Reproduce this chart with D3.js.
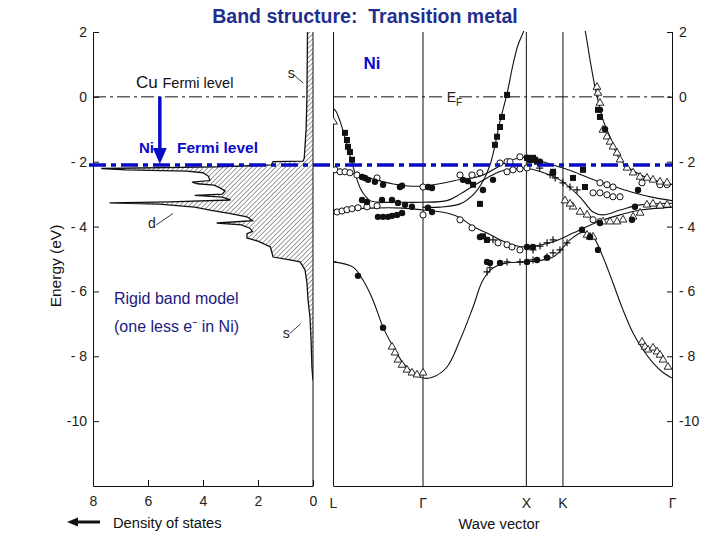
<!DOCTYPE html>
<html><head><meta charset="utf-8">
<script src="https://cdn.jsdelivr.net/npm/d3@7"></script>
<style>body{margin:0;background:#fff}svg{display:block}text{font-family:"Liberation Sans",Arial,sans-serif}</style>
</head><body><svg id="c" width="720" height="540"></svg>
<script>
// ---------------- DATA ----------------
const energyTicks = [2, 0, -2, -4, -6, -8, -10];
const dosTicks = [8, 6, 4, 2, 0];
const kLabels = ["L", "Γ", "X", "K", "Γ"];
const kPositions = [0, 0.866, 1.866, 2.22, 3.28];
const cuFermi = 0;
const niFermi = -2.1;

// density of states [energy (eV), DOS]
const dosProfile = [[2.0,0.2],[0.0,0.22],[-1.0,0.25],[-1.9,0.32],[-1.98,0.36],[-2.0,1.45],[-2.1,1.5],[-2.16,3.5],[-2.21,7.7],[-2.25,6.8],[-2.29,4.6],[-2.34,4.0],[-2.45,3.8],[-2.58,3.75],[-2.63,4.4],[-2.68,4.2],[-2.72,3.6],[-2.8,3.4],[-2.9,3.2],[-3.0,3.3],[-3.04,4.3],[-3.09,3.3],[-3.18,3.0],[-3.24,5.2],[-3.27,7.4],[-3.31,5.6],[-3.4,4.3],[-3.5,3.7],[-3.6,3.0],[-3.7,2.4],[-3.82,2.2],[-3.89,3.5],[-3.95,2.6],[-4.05,2.3],[-4.15,2.2],[-4.22,2.4],[-4.35,2.4],[-4.45,2.0],[-4.63,1.55],[-4.94,1.45],[-5.03,0.84],[-5.09,0.47],[-5.34,0.29],[-5.74,0.22],[-6.27,0.18],[-6.79,0.11],[-7.5,0.07],[-8.33,0.04],[-8.75,0.0]];

// calculated bands [k, E]
const band1 = [[0,-5.09],[0.194,-5.25],[0.290,-5.65],[0.387,-6.27],[0.484,-7.1],[0.581,-7.7],[0.677,-8.2],[0.774,-8.5],[0.866,-8.67],[0.968,-8.64],[1.103,-8.33],[1.229,-7.5],[1.355,-6.48],[1.451,-5.65],[1.548,-5.28],[1.684,-5.12],[1.866,-5.09],[2.129,-4.94],[2.293,-4.41],[2.419,-4.17],[2.516,-4.32],[2.612,-4.94],[2.709,-5.74],[2.806,-6.57],[2.903,-7.28],[3.0,-7.8],[3.096,-8.2],[3.193,-8.5],[3.28,-8.67]];
const band2 = [[0,-3.49],[0.358,-3.43],[0.677,-3.43],[0.866,-3.49],[1.103,-3.58],[1.229,-3.73],[1.355,-4.0],[1.490,-4.2],[1.616,-4.41],[1.742,-4.57],[1.866,-4.63],[2.129,-4.47],[2.322,-4.2],[2.458,-4.0],[2.612,-3.8],[2.777,-3.64],[2.971,-3.49],[3.28,-3.4]];
const band3 = [[0,-2.25],[0.116,-2.3],[0.242,-2.4],[0.406,-2.55],[0.571,-2.68],[0.726,-2.75],[0.866,-2.75],[1.084,-2.65],[1.229,-2.55],[1.422,-2.45],[1.548,-2.25],[1.684,-2.0],[1.809,-1.88],[1.866,-1.85],[1.935,-1.9],[2.129,-2.1],[2.322,-2.3],[2.516,-2.55],[2.709,-2.75],[2.903,-2.95],[3.096,-3.1],[3.28,-3.2]];
const band4 = [[0,-0.35],[0.03,-0.45],[0.068,-0.75],[0.116,-1.25],[0.164,-1.8],[0.213,-2.35],[0.262,-2.8],[0.31,-3.05],[0.358,-3.2],[0.45,-3.25],[0.6,-3.25],[0.866,-3.25],[1.103,-3.2],[1.229,-3.0],[1.355,-2.75],[1.490,-2.5],[1.616,-2.3],[1.742,-2.22],[1.866,-2.2],[2.003,-2.3],[2.196,-2.56],[2.390,-3.09],[2.516,-3.55],[2.612,-3.64],[2.777,-3.49],[2.971,-3.33],[3.28,-3.28]];
const band5 = [[0.866,-3.4],[1.035,-3.4],[1.229,-3.3],[1.355,-3.02],[1.451,-2.6],[1.519,-2.1],[1.567,-1.5],[1.616,-0.75],[1.684,0.1],[1.742,1.0],[1.790,1.6],[1.848,2.05],[1.9,2.6]];
const band6 = [[2.40,2.6],[2.438,2.07],[2.487,1.14],[2.535,0.3],[2.564,-0.1],[2.612,-0.7],[2.680,-1.23],[2.777,-1.94],[2.942,-2.35],[3.096,-2.56],[3.28,-2.7]];
const bands = [band1, band2, band3, band4, band5, band6];

// experimental points [k, E]
const filledSquares = [[0.116,-1.11],[0.135,-1.33],[0.145,-1.54],[0.164,-1.7],[0.184,-1.94],[1.684,0.06],[1.635,-0.62],[1.616,-0.93],[1.587,-1.23],[1.567,-1.48],[2.564,-0.4],[2.583,-0.62],[1.877,-1.88],[1.906,-1.94],[1.935,-1.88],[1.955,-1.94],[1.974,-2.0],[1.355,-2.71],[1.422,-3.3],[1.490,-4.41],[1.451,-4.3],[2.129,-2.31],[2.322,-2.5],[2.419,-2.25],[2.438,-2.78]];
const openCircles = [[0.019,-2.25],[0.068,-2.31],[0.116,-2.31],[0.164,-2.34],[0.232,-2.41],[0.426,-2.5],[0.871,-2.78],[0.039,-3.55],[0.087,-3.52],[0.135,-3.48],[0.184,-3.45],[0.242,-3.42],[0.329,-3.39],[0.426,-3.36],[0.871,-3.64],[1.229,-2.41],[1.345,-2.41],[1.422,-2.34],[1.616,-2.04],[1.684,-2.0],[1.713,-2.0],[1.809,-1.85],[1.684,-2.31],[1.742,-2.25],[1.809,-2.22],[1.877,-2.19],[1.229,-3.79],[1.345,-4.04],[1.597,-4.5],[1.684,-4.56],[1.732,-4.63],[1.809,-4.72],[2.583,-2.65],[2.651,-2.71],[2.709,-2.78],[2.516,-2.96],[2.583,-2.96],[2.651,-3.02],[2.709,-3.08],[2.777,-3.08],[2.516,-3.79],[2.583,-3.85],[2.990,-2.65],[3.164,-2.71],[3.232,-2.71]];
const filledCircles = [[0.281,-2.47],[0.310,-2.5],[0.339,-2.56],[0.406,-2.62],[0.484,-2.71],[0.648,-2.78],[0.668,-2.74],[0.919,-2.78],[0.958,-2.81],[0.281,-3.18],[0.329,-3.24],[0.474,-3.18],[0.571,-3.18],[0.629,-3.27],[0.697,-3.33],[0.764,-3.39],[0.919,-3.42],[0.958,-3.55],[0.435,-3.7],[0.484,-3.7],[0.532,-3.7],[0.571,-3.67],[0.619,-3.64],[0.668,-3.58],[1.258,-2.56],[1.306,-2.6],[1.451,-2.87],[1.548,-2.56],[1.877,-1.88],[1.906,-1.94],[1.955,-1.94],[2.003,-2.0],[1.422,-4.32],[1.490,-4.41],[1.877,-4.63],[1.935,-4.63],[1.490,-5.09],[1.519,-5.12],[1.616,-5.12],[1.877,-5.09],[1.974,-5.03],[2.071,-4.96],[2.129,-2.34],[2.583,-0.4],[2.632,-1.0],[2.951,-2.87],[2.922,-3.39],[2.893,-3.79],[2.583,-3.89],[2.409,-4.1],[2.564,-4.72],[2.487,-4.32],[0.242,-5.52],[0.484,-7.12]];
const openTriangles = [[0.005,-0.77],[0.571,-7.71],[0.600,-7.89],[0.629,-8.11],[0.668,-8.27],[0.716,-8.42],[0.764,-8.51],[0.813,-8.57],[0.871,-8.51],[2.990,-7.56],[3.019,-7.71],[3.048,-7.8],[3.096,-7.74],[3.135,-7.86],[3.164,-7.96],[3.193,-8.11],[3.241,-8.33],[2.554,0.3],[2.564,0.12],[2.583,-0.19],[2.612,-1.02],[2.651,-1.23],[2.680,-1.39],[2.709,-1.54],[2.748,-1.73],[2.777,-1.94],[2.845,-2.19],[2.903,-2.34],[2.971,-2.47],[3.038,-2.5],[3.096,-2.56],[3.164,-2.62],[3.232,-2.65],[2.322,-3.39],[2.390,-3.55],[2.458,-3.64],[2.612,-3.85],[2.680,-3.85],[2.748,-3.85],[2.806,-3.79],[2.903,-3.7],[2.971,-3.58],[3.038,-3.33],[3.096,-3.3],[3.164,-3.36],[3.232,-3.33],[2.458,-4.26],[2.487,-4.32],[2.516,-4.32],[2.245,-3.2],[2.293,-3.3]];
const crosses = [[0.0,-5.09],[1.490,-5.4],[1.519,-5.27],[1.684,-5.09],[1.809,-5.09],[1.935,-5.03],[2.071,-4.93],[2.129,-4.81],[2.196,-4.72],[2.264,-4.5],[1.548,-4.41],[1.935,-4.72],[2.003,-4.6],[2.071,-4.5],[2.129,-4.41],[2.225,-2.65],[2.293,-2.78],[2.361,-2.87],[2.0,-2.2],[2.1,-2.4],[2.15,-2.5]];

// ---------------- SCALES ----------------
const svg = d3.select("#c");
const yE = d3.scaleLinear().domain([-12, 2]).range([486, 32]);
const xD = d3.scaleLinear().domain([8, 0]).range([93, 313]);
const xK = d3.scaleLinear().domain([0, 3.28]).range([333, 672]);

const defs = svg.append("defs");
const pat = defs.append("pattern").attr("id","hatch").attr("patternUnits","userSpaceOnUse")
  .attr("width",3.4).attr("height",3.4).attr("patternTransform","rotate(45)");
pat.append("line").attr("x1",0).attr("y1",0).attr("x2",0).attr("y2",3.4).attr("stroke","#222").attr("stroke-width",0.9);
defs.append("clipPath").attr("id","clipL").append("rect").attr("x",93).attr("y",32).attr("width",220).attr("height",454);
defs.append("clipPath").attr("id","clipR").append("rect").attr("x",333).attr("y",31).attr("width",339).attr("height",455);

// ---------------- LEFT PANEL (DOS) ----------------
const gL = svg.append("g");
const area = d3.area().y(d => yE(d[0])).x0(xD(0)).x1(d => xD(d[1]));
gL.append("path").datum(dosProfile).attr("d", area).attr("fill","url(#hatch)").attr("clip-path","url(#clipL)");
gL.append("path").datum(dosProfile).attr("d", d3.line().y(d => yE(d[0])).x(d => xD(d[1])))
  .attr("fill","none").attr("stroke","#111").attr("stroke-width",1.3).attr("clip-path","url(#clipL)");

const fmt = d => d < 0 ? (d <= -10 ? "-" + (-d) : "- " + (-d)) : String(d);
const axL = gL.append("g").attr("transform","translate(93,0)")
  .call(d3.axisLeft(yE).tickValues(energyTicks).tickSizeInner(-6).tickSizeOuter(0).tickPadding(6).tickFormat(fmt));
gL.append("line").attr("x1",313).attr("x2",313).attr("y1",32).attr("y2",486).attr("stroke","#111");
const axB = gL.append("g").attr("transform","translate(0,486)")
  .call(d3.axisBottom(xD).tickValues(dosTicks).tickSizeInner(-6).tickSizeOuter(0).tickPadding(10));

// Cu Fermi level (dash-dot)
gL.append("line").attr("x1",xD(8)).attr("x2",xD(0.12)).attr("y1",yE(cuFermi)).attr("y2",yE(cuFermi))
  .attr("stroke","#111").attr("stroke-width",1).attr("stroke-dasharray","13,4,3,4");

// annotations s, d
const ann = [{t:"s", dos:0.92, e:0.58, l:[[0.7,0.68],[0.35,0.42]]},
             {t:"s", dos:1.1, e:-7.45, l:[[0.85,-7.3],[0.45,-7.0]]},
             {t:"d", dos:6.0, e:-4.05, l:[[5.7,-3.95],[5.1,-3.6]]}];
ann.forEach(a => {
  gL.append("text").attr("x",xD(a.dos)).attr("y",yE(a.e)).attr("font-size",14).attr("fill","#222")
    .attr("font-family","DejaVu Sans, sans-serif").text(a.t);
  gL.append("line").attr("x1",xD(a.l[0][0])).attr("y1",yE(a.l[0][1])).attr("x2",xD(a.l[1][0])).attr("y2",yE(a.l[1][1]))
    .attr("stroke","#222").attr("stroke-width",0.9);
});

// ---------------- RIGHT PANEL (bands) ----------------
const gR = svg.append("g");
const axK = gR.append("g").attr("transform","translate(0,486)")
  .call(d3.axisBottom(xK).tickValues(kPositions).tickFormat((d,i) => kLabels[i]).tickSizeInner(-454).tickSizeOuter(0).tickPadding(12));
const axR = gR.append("g").attr("transform","translate(672,0)")
  .call(d3.axisRight(yE).tickValues(energyTicks).tickSizeInner(-5).tickSizeOuter(0).tickPadding(7).tickFormat(fmt));

[axL, axB, axK, axR].forEach(a => {
  a.selectAll("text").attr("font-size",14).attr("fill","#222").attr("font-family","DejaVu Sans, sans-serif");
  a.selectAll("line,path").attr("stroke","#111");
});
axK.selectAll("text").attr("font-family","Liberation Sans, Arial, sans-serif").attr("font-size",14);

// E_F dash-dot
const efSegs = [[0, 1.06], [1.22, 3.28]];
efSegs.forEach(s => gR.append("line").attr("x1",xK(s[0])).attr("x2",xK(s[1])).attr("y1",yE(cuFermi)).attr("y2",yE(cuFermi))
  .attr("stroke","#111").attr("stroke-width",1).attr("stroke-dasharray","13,4,3,4"));
const ef = gR.append("text").attr("x",xK(1.1)).attr("y",yE(cuFermi)+5).attr("font-size",14).attr("fill","#222").attr("font-family","DejaVu Sans, sans-serif");
ef.append("tspan").text("E");
ef.append("tspan").attr("font-size",10).attr("dy",4).text("F");

const bandLine = d3.line().x(d => xK(d[0])).y(d => yE(d[1])).curve(d3.curveCatmullRom.alpha(0.5));
const gB = gR.append("g").attr("clip-path","url(#clipR)");
gB.selectAll("path.band").data(bands).join("path").attr("class","band").attr("d", bandLine)
  .attr("fill","none").attr("stroke","#111").attr("stroke-width",1.1);

const gM = gR.append("g").attr("clip-path","url(#clipR)");
gM.selectAll("circle.oc").data(openCircles).join("circle").attr("class","oc")
  .attr("cx",d=>xK(d[0])).attr("cy",d=>yE(d[1])).attr("r",3.1).attr("fill","#fff").attr("stroke","#111").attr("stroke-width",1);
gM.selectAll("path.tr").data(openTriangles).join("path").attr("class","tr")
  .attr("d", d3.symbol(d3.symbolTriangle, 26)()).attr("transform",d=>`translate(${xK(d[0])},${yE(d[1])})`)
  .attr("fill","#fff").attr("stroke","#111").attr("stroke-width",0.9);
gM.selectAll("circle.fc").data(filledCircles).join("circle").attr("class","fc")
  .attr("cx",d=>xK(d[0])).attr("cy",d=>yE(d[1])).attr("r",3.2).attr("fill","#111");
gM.selectAll("rect.sq").data(filledSquares).join("rect").attr("class","sq")
  .attr("x",d=>xK(d[0])-3).attr("y",d=>yE(d[1])-3).attr("width",6).attr("height",6).attr("fill","#111");
gM.selectAll("path.cr").data(crosses).join("path").attr("class","cr")
  .attr("d","M-3.5,0H3.5M0,-3.5V3.5").attr("transform",d=>`translate(${xK(d[0])},${yE(d[1])})`)
  .attr("stroke","#111").attr("stroke-width",1.2);

// ---------------- OVERLAYS ----------------
const blue = "#0a0ac8";
svg.append("line").attr("x1",89).attr("x2",xK(3.28)).attr("y1",yE(niFermi)).attr("y2",yE(niFermi))
  .attr("stroke",blue).attr("stroke-width",3.5).attr("stroke-dasharray","17,5,5,5");
// arrow
const ax = xD(5.57);
svg.append("line").attr("x1",ax).attr("x2",ax).attr("y1",yE(cuFermi)).attr("y2",yE(niFermi)-16)
  .attr("stroke",blue).attr("stroke-width",3.5);
svg.append("path").attr("d",`M${ax-7},${yE(niFermi)-17}L${ax+7},${yE(niFermi)-17}L${ax},${yE(niFermi)-1}Z`).attr("fill",blue);

// texts
svg.append("text").attr("x",365).attr("y",23).attr("text-anchor","middle").attr("font-size",19.5).attr("font-weight","bold")
  .attr("fill","#1f2f8f").attr("xml:space","preserve").style("white-space","pre").text("Band structure:  Transition metal");
svg.append("text").attr("x",372).attr("y",69).attr("text-anchor","middle").attr("font-size",17).attr("font-weight","bold").attr("fill",blue).text("Ni");
const cu = svg.append("text").attr("x",136).attr("y",88).attr("fill","#111");
cu.append("tspan").attr("font-size",17).text("Cu ");
cu.append("tspan").attr("font-size",14.5).text("Fermi level");
svg.append("text").attr("x",139).attr("y",153).attr("font-size",15).attr("font-weight","bold").attr("fill",blue).text("Ni");
svg.append("text").attr("x",177).attr("y",153).attr("font-size",15.5).attr("font-weight","bold").attr("fill",blue).text("Fermi level");
svg.append("text").attr("x",114).attr("y",304).attr("font-size",16).attr("fill","#1a1a80").text("Rigid band model");
svg.append("text").attr("x",114).attr("y",332).attr("font-size",16).attr("fill","#1a1a80").text("(one less e⁻ in Ni)");
svg.append("text").attr("transform","translate(61,266) rotate(-90)").attr("text-anchor","middle").attr("font-size",15.5).attr("fill","#111").text("Energy (eV)");
svg.append("text").attr("x",113).attr("y",528).attr("font-size",14.7).attr("fill","#111").text("Density of states");
svg.append("text").attr("x",499).attr("y",529).attr("text-anchor","middle").attr("font-size",14.7).attr("fill","#111").text("Wave vector");
svg.append("line").attr("x1",100).attr("x2",76).attr("y1",522).attr("y2",522).attr("stroke","#111").attr("stroke-width",3);
svg.append("path").attr("d","M67,522L78,517.5L78,526.5Z").attr("fill","#111");
</script></body></html>
